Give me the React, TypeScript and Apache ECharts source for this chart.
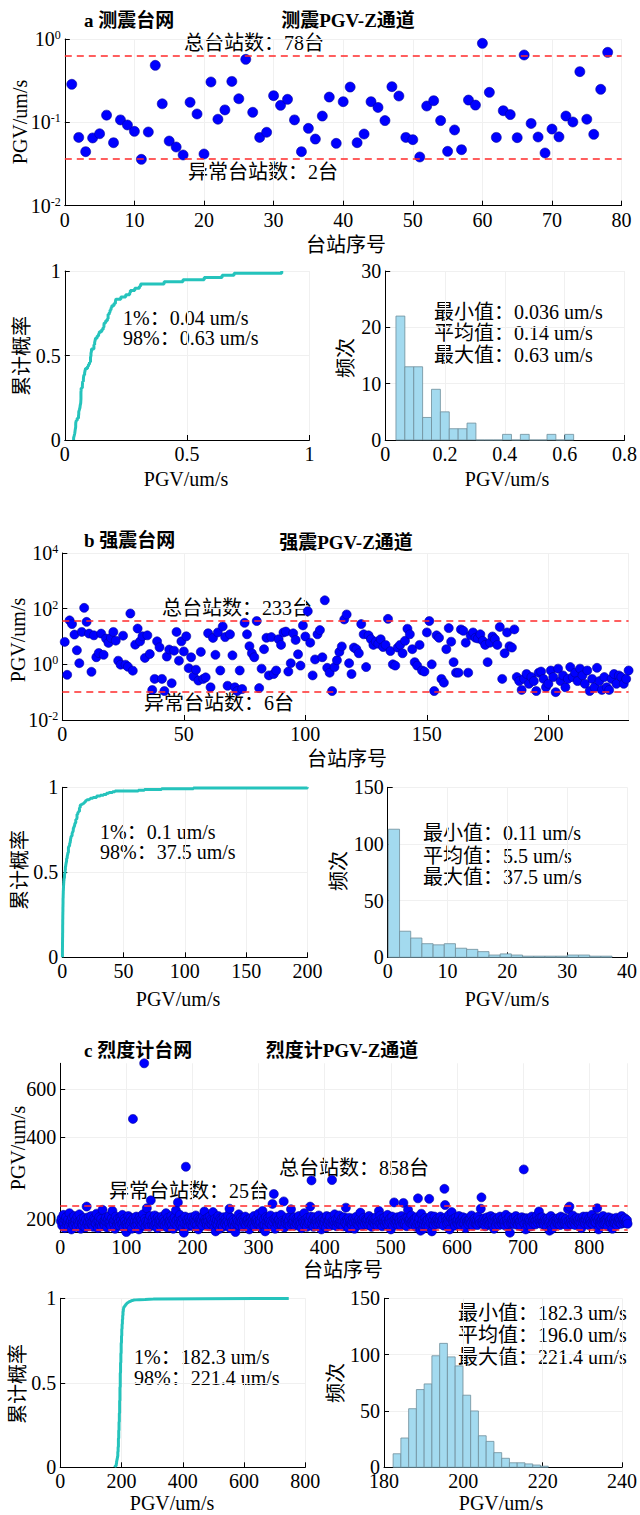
import React, { useEffect, useRef } from 'react';
import * as echarts from 'echarts';

const FONT = '"Liberation Serif", "Noto Sans CJK SC", serif';

// ---------- panel a: 测震台网 (78 stations) ----------
const aStations = [
  0.286, 0.066, 0.0445, 0.065, 0.073, 0.122, 0.057, 0.107, 0.093, 0.078,
  0.036, 0.0766, 0.483, 0.167, 0.0597, 0.0506, 0.0406, 0.174, 0.126, 0.0417,
  0.305, 0.109, 0.141, 0.31, 0.192, 0.57, 0.132, 0.066, 0.076, 0.209,
  0.16, 0.189, 0.107, 0.0445, 0.0847, 0.063, 0.119, 0.201, 0.056, 0.177,
  0.265, 0.057, 0.0724, 0.177, 0.151, 0.105, 0.268, 0.207, 0.066, 0.062,
  0.0384, 0.157, 0.182, 0.105, 0.0449, 0.081, 0.047, 0.185, 0.161, 0.887,
  0.229, 0.066, 0.138, 0.124, 0.0655, 0.643, 0.097, 0.0667, 0.0429, 0.083,
  0.067, 0.119, 0.101, 0.406, 0.109, 0.0718, 0.249, 0.692,
];
const aLimits = [0.036, 0.63];
const aHistRange = [0.036, 0.63];
const aHistCounts = [22, 13, 13, 4, 9, 5, 2, 2, 3, 0, 0, 0, 1, 0, 1, 0, 0, 1, 0, 1];

// ---------- panel b: 强震台网 (233 stations) ----------
const bStations = [
  6.4, 0.42, 38, 28, 11.7, 3.2, 1.1, 14.6, 107, 33.6,
  12.7, 0.54, 11, 1.8, 2.55, 12.7, 2.2, 8.4, 5.9, 8.9,
  14.6, 7.1, 1.35, 0.97, 10.7, 0.97, 0.82, 67, 0.59, 5.1,
  19.3, 6.7, 10.2, 1.7, 11, 2.35, 0.12, 0.3, 6.7, 4.1,
  0.3, 0.11, 1.9, 3.4, 0.21, 3.1, 14.6, 1.35, 6.7, 2.9,
  10.2, 0.73, 1.8, 0.37, 0.64, 0.26, 2.8, 0.3, 0.34, 13.1,
  0.15, 8.9, 2.2, 14, 0.6, 23, 9.5, 0.17, 12, 2.1,
  0.15, 0.11, 0.6, 0.13, 31, 12, 4.5, 2.5, 1.8, 36,
  0.14, 0.7, 3.5, 9, 0.4, 9.5, 0.45, 0.6, 8, 5,
  14, 15, 0.55, 1.1, 13, 7.5, 2.3, 0.9, 25, 10,
  81, 6, 0.4, 1.5, 12, 17, 1.8, 200, 0.75, 0.5,
  0.11, 0.8, 1.4, 2.8, 4.4, 41, 62, 1.1, 0.45, 4,
  3.5, 2.5, 28, 12, 0.8, 11, 8, 5, 6.5, 5.5,
  8, 4.2, 5, 43, 3, 1, 0.9, 4, 5, 2.5,
  7, 19, 12, 3.5, 1.2, 0.9, 5, 0.6, 0.55, 14,
  36, 1, 0.11, 11, 9, 0.3, 0.22, 3.5, 20, 6.5,
  1.2, 0.5, 0.5, 18, 16, 6, 0.5, 11, 14, 9,
  8.5, 12, 7, 5, 1.2, 6, 10, 8, 5, 22,
  0.3, 2.5, 14, 4.5, 4, 18, 0.35, 0.25, 0.12, 0.3,
  0.45, 0.2, 0.35, 0.25, 0.11, 0.5, 0.55, 0.3, 0.15, 0.2,
  0.6, 0.35, 0.1, 0.7, 0.25, 0.4, 0.15, 0.3, 0.8, 0.35,
  0.5, 0.25, 0.7, 0.4, 0.2, 0.6, 0.11, 0.3, 0.15, 0.75,
  0.25, 0.12, 0.35, 0.15, 0.12, 0.3, 0.45, 0.2, 0.4, 0.35,
  0.2, 0.3, 0.6,
];
const bLimits = [0.1, 37.5];
const bHistRange = [0.11, 37.5];
const bHistCounts = [113, 23, 17, 12, 11, 12, 8, 7, 5, 2, 3, 2, 1, 1, 1, 1, 2, 2, 1, 1];

// ---------- panel c: 烈度计台网 (858 stations) ----------
const cStationsBase = [
  196,201,189,194,207,192,185,198,203,191,195,199,188,210,194,197,183,202,193,190,205,196,
  192,199,187,204,195,191,208,196,184,200,193,189,197,202,194,186,199,212,191,195,203,188,
  198,193,205,190,196,187,201,194,199,192,209,196,185,197,203,190,194,200,188,216,195,192,
  190,197,202,194,186,199,193,205,191,196,188,201,214,195,192,198,184,204,196,190,200,193,
  195,189,203,198,192,207,194,186,200,196,191,199,193,188,205,197,190,202,195,184,198,194,
  201,192,196,189,204,195,191,198,183,203,194,199,190,197,208,193,195,200,188,196,219,191,
  194,198,187,205,193,196,190,201,195,189,206,192,199,194,185,203,197,191,200,195,188,204,
  192,200,195,189,197,210,193,186,202,196,191,198,194,205,190,199,184,196,203,192,215,198,
  189,196,201,193,207,190,198,194,185,200,196,192,204,197,191,199,195,188,202,194,197,190,
  203,194,188,199,195,192,206,196,190,201,183,197,194,200,193,198,189,204,195,213,199,196,
  195,190,202,196,188,204,193,199,191,197,212,194,186,200,195,192,198,190,205,196,184,201,
  191,199,194,187,203,196,192,200,195,189,197,206,193,218,185,202,194,196,190,199,195,188,
  197,193,200,191,196,208,189,195,202,194,198,187,201,196,192,204,190,197,195,199,193,183,
  194,201,196,190,199,193,205,188,197,195,200,192,196,209,191,198,194,186,203,214,190,199,
  190,196,203,195,188,201,194,198,192,206,196,189,199,195,193,200,184,197,204,194,191,198,
  199,192,195,207,190,197,194,201,186,196,193,199,202,191,195,198,189,204,217,192,200,194,
  196,203,189,194,200,192,198,195,205,190,197,193,185,201,196,194,210,191,199,195,187,202,
  193,198,195,190,204,196,192,199,187,203,195,191,197,200,194,189,206,196,193,198,183,195,
  201,190,197,194,199,186,205,195,192,198,196,203,189,194,200,197,191,196,208,193,199,188,
  195,199,192,206,194,197,190,201,196,188,203,195,193,220,191,200,196,185,202,194,197,192,
  190,196,201,194,184,199,195,204,192,197,190,200,195,211,193,198,189,196,202,194,191,199,
  197,193,199,190,205,196,192,198,187,201,195,194,200,191,197,203,194,189,196,214,193,206,
  194,200,188,197,195,202,191,196,199,193,207,190,198,195,201,183,196,204,189,197,194,199,
  192,198,195,203,190,196,200,194,189,205,197,193,199,195,191,201,196,188,202,216,198,195,
  199,193,206,195,191,198,194,200,196,187,203,192,197,195,201,190,196,209,193,198,184,191,
  196,202,190,197,194,199,188,195,201,193,205,196,192,198,190,204,195,197,191,200,194,198,
  193,197,204,191,198,195,200,189,196,194,202,197,192,199,195,207,183,196,201,212,198,195,
  200,194,189,202,196,193,198,191,205,195,197,190,199,194,203,196,192,198,185,201,195,197,
  191,198,195,200,193,206,196,189,199,194,201,197,192,196,190,204,195,198,193,218,196,194,
  197,192,201,195,188,199,194,203,196,191,198,193,205,195,200,190,197,184,202,196,189,199,
  194,200,196,190,204,195,198,192,197,201,193,196,189,207,195,199,194,191,203,215,195,192,
  199,193,197,202,191,196,205,194,198,190,200,195,193,197,188,203,196,199,194,192,201,183,
  195,201,190,196,199,193,197,188,204,195,198,192,200,196,191,197,206,194,199,213,196,202,
  192,197,203,194,196,190,200,195,198,187,201,196,193,199,195,205,191,184,194,200,196,189,
  198,194,196,201,192,199,195,190,204,196,193,198,202,194,197,191,200,195,188,217,196,199,
  193,200,195,191,206,196,194,199,190,197,202,195,198,192,196,201,194,185,199,195,204,197,
  196,192,199,204,194,197,190,201,195,198,193,207,196,191,200,195,198,194,202,219,197,183,
  201,195,190,197,199,193,205,196,192,198,194,200,196,188,203,195,197,199,193,201,184,194,
  195,199,193,196,202,190,197,195,200,194,198,192,205,196,199,193,197,201,194,196,198,192,
];
// stations (1-based number) read individually outside the dense band
const cOutlierStation = [40, 100, 110, 127, 137, 178, 187, 190, 235, 265, 310, 321, 323, 338, 378, 380, 411, 505, 519, 541, 545, 558, 562, 581, 582, 637, 680, 701, 740, 770];
const cOutlierValue = [222, 179, 466, 746, 234, 230, 178, 311, 180, 179, 180, 227, 247, 232, 222, 277, 278, 230, 229, 238, 181, 237, 180, 258, 225, 240, 178, 304, 181, 222];
const cLimits = [182.3, 221.4];
const cHistRange = [182.3, 221.4];
const cHistCounts = [12, 26, 52, 69, 74, 99, 110, 98, 90, 64, 50, 28, 23, 13, 8, 4, 4, 3, 2, 1];

// ---------- texts ----------
const panelTitles = ['a 测震台网', 'b 强震台网', 'c 烈度计台网'];
const chartTitles = ['测震PGV-Z通道', '强震PGV-Z通道', '烈度计PGV-Z通道'];
const totalTexts = ['总台站数：78台', '总台站数：233台', '总台站数：858台'];
const abnormalTexts = ['异常台站数：2台', '异常台站数：6台', '异常台站数：25台'];
const cdfTexts = [
  ['1%：0.04 um/s', '98%：0.63 um/s'],
  ['1%：0.1 um/s', '98%：37.5 um/s'],
  ['1%：182.3 um/s', '98%：221.4 um/s'],
];
const histTexts = [
  ['最小值：0.036 um/s', '平均值：0.14 um/s', '最大值：0.63 um/s'],
  ['最小值：0.11 um/s', '平均值：5.5 um/s', '最大值：37.5 um/s'],
  ['最小值：182.3 um/s', '平均值：196.0 um/s', '最大值：221.4 um/s'],
];

// ---------- helpers ----------
const cStations = cStationsBase.slice();
cOutlierStation.forEach((s, k) => {
  if (s - 1 < cStations.length) cStations[s - 1] = cOutlierValue[k];
});

const toLogScatter = (vals: number[]) => vals.map((v, i) => [i + 1, Math.log10(v)]);
const ecdf = (vals: number[]) => {
  const s = [...vals].sort((x, y) => x - y);
  const n = s.length;
  const out: number[][] = [[s[0], 0]];
  s.forEach((v, i) => out.push([v, (i + 1) / n]));
  return out;
};
const histBins = (counts: number[], range: number[]) => {
  const w = (range[1] - range[0]) / counts.length;
  return counts.map((c, k) => [range[0] + k * w, range[0] + (k + 1) * w, c]);
};

const TICK = 20;
const rich = {
  b: { fontSize: TICK, fontFamily: FONT, color: '#000' },
  s: { fontSize: 12, fontFamily: FONT, color: '#000', verticalAlign: 'top' },
};
const powLabel = (v: number) => `{b|10}{s|${Math.round(v)}}`;

const mkAxis = (gridIndex: number, o: any) => ({
  gridIndex,
  type: 'value',
  min: o.min,
  max: o.max,
  interval: o.interval,
  axisLine: { show: true, onZero: false, lineStyle: { color: '#000', width: 1 } },
  axisTick: { show: true, inside: true, length: 5, lineStyle: { color: '#000' }, ...(o.axisTick || {}) },
  axisLabel: { color: '#000', fontSize: TICK, fontFamily: FONT, margin: 4, ...(o.axisLabel || {}) },
  splitLine: { show: true, lineStyle: { color: '#f0f0f0', width: 1 } },
});

const scatterSeries = (idx: number, vals: number[], limits: number[], size: number) => ({
  type: 'scatter',
  xAxisIndex: idx,
  yAxisIndex: idx,
  data: toLogScatter(vals),
  symbolSize: size,
  itemStyle: { color: '#0000ff', borderColor: '#00009a', borderWidth: 0.6, opacity: 1 },
  markLine: {
    silent: true,
    symbol: ['none', 'none'],
    label: { show: false },
    lineStyle: { color: '#ff2a2a', type: [7, 5], width: 1.5 },
    data: limits.map((v) => ({ yAxis: Math.log10(v) })),
  },
});

const cdfSeries = (idx: number, vals: number[]) => ({
  type: 'line',
  xAxisIndex: idx,
  yAxisIndex: idx,
  data: ecdf(vals),
  step: 'end',
  showSymbol: false,
  lineStyle: { color: '#25c3bc', width: 3 },
});

const histSeries = (idx: number, counts: number[], range: number[]) => ({
  type: 'custom',
  xAxisIndex: idx,
  yAxisIndex: idx,
  data: histBins(counts, range),
  encode: { x: [0, 1], y: 2 },
  renderItem: (_p: any, api: any) => {
    const p0 = api.coord([api.value(0), api.value(2)]);
    const p1 = api.coord([api.value(1), 0]);
    return {
      type: 'rect',
      shape: { x: p0[0], y: p0[1], width: p1[0] - p0[0], height: p1[1] - p0[1] },
      style: { fill: '#a3daef', stroke: '#6f8e9b', lineWidth: 0.8 },
    };
  },
});

const txt = (text: string, x: number, y: number, o: any = {}) => ({
  type: 'text',
  x,
  y,
  rotation: o.rot || 0,
  silent: true,
  style: {
    text,
    fill: '#000',
    font: `${o.bold ? 'bold ' : ''}${o.size || 20}px ${FONT}`,
    textAlign: o.align || 'left',
    textVerticalAlign: 'middle',
  },
});

export default function App() {
  const ref = useRef<HTMLDivElement>(null);
  useEffect(() => {
    document.body.style.margin = '0';
    const chart = echarts.init(ref.current!, null, { renderer: 'svg' });

    const cMinLog = Math.log10(Math.min(...cStations));
    const cMaxLog = Math.log10(Math.max(...cStations));
    const R = Math.PI / 2;

    const option: any = {
      animation: false,
      backgroundColor: '#fff',
      grid: [
        { left: 64.8, top: 39, width: 556.8, height: 166.7 },
        { left: 64.8, top: 271, width: 244.6, height: 169 },
        { left: 385.2, top: 271, width: 244.8, height: 169 },
        { left: 62.3, top: 553, width: 566.3, height: 167 },
        { left: 62.3, top: 787.3, width: 245.1, height: 170 },
        { left: 387.7, top: 787.3, width: 246.7, height: 170 },
        { left: 60.2, top: 1063.3, width: 567.4, height: 169.4 },
        { left: 60.2, top: 1298.3, width: 245.1, height: 169 },
        { left: 384, top: 1298.3, width: 245, height: 169 },
      ],
      xAxis: [
        mkAxis(0, { min: 0, max: 80, interval: 10 }),
        mkAxis(1, { min: 0, max: 1, interval: 0.5 }),
        mkAxis(2, { min: 0, max: 0.8, interval: 0.2 }),
        mkAxis(3, { min: 0, max: 233, interval: 50, axisLabel: { showMaxLabel: false, formatter: (v: number) => (v % 50 === 0 ? String(v) : '') } }),
        mkAxis(4, { min: 0, max: 200, interval: 50 }),
        mkAxis(5, { min: 0, max: 40, interval: 10 }),
        mkAxis(6, { min: 0, max: 858, interval: 100, axisLabel: { showMaxLabel: false, formatter: (v: number) => (v % 100 === 0 ? String(v) : '') } }),
        mkAxis(7, { min: 0, max: 800, interval: 200 }),
        mkAxis(8, { min: 180, max: 240, interval: 20 }),
      ],
      yAxis: [
        mkAxis(0, { min: -2, max: 0, interval: 1, axisLabel: { formatter: powLabel, rich } }),
        mkAxis(1, { min: 0, max: 1, interval: 0.5 }),
        mkAxis(2, { min: 0, max: 30, interval: 10 }),
        mkAxis(3, { min: -2, max: 4, interval: 2, axisLabel: { formatter: powLabel, rich } }),
        mkAxis(4, { min: 0, max: 1, interval: 0.5 }),
        mkAxis(5, { min: 0, max: 150, interval: 50 }),
        mkAxis(6, {
          min: cMinLog,
          max: cMaxLog,
          axisTick: { customValues: [200, 400, 600].map((v) => Math.log10(v)) },
          axisLabel: {
            customValues: [200, 400, 600].map((v) => Math.log10(v)),
            formatter: (v: number) => String(Math.round(Math.pow(10, v))),
          },
        }),
        mkAxis(7, { min: 0, max: 1, interval: 0.5 }),
        mkAxis(8, { min: 0, max: 150, interval: 50 }),
      ],
      series: [
        scatterSeries(0, aStations, aLimits, 10),
        cdfSeries(1, aStations),
        histSeries(2, aHistCounts, aHistRange),
        scatterSeries(3, bStations, bLimits, 9),
        cdfSeries(4, bStations),
        histSeries(5, bHistCounts, bHistRange),
        scatterSeries(6, cStations, cLimits, 9),
        cdfSeries(7, cStations),
        histSeries(8, cHistCounts, cHistRange),
      ],
      graphic: [
        // panel a
        txt(panelTitles[0], 84, 20, { bold: true, size: 19 }),
        txt(chartTitles[0], 348, 20, { bold: true, align: 'center', size: 19 }),
        txt(totalTexts[0], 184, 43),
        txt(abnormalTexts[0], 188, 172),
        txt('台站序号', 346, 245, { align: 'center' }),
        txt('PGV/um/s', 20, 122, { align: 'center', rot: R }),
        txt(cdfTexts[0][0], 123, 318),
        txt(cdfTexts[0][1], 123, 338),
        txt('累计概率', 22, 356, { align: 'center', rot: R }),
        txt('PGV/um/s', 186, 479, { align: 'center' }),
        txt(histTexts[0][0], 434, 312),
        txt(histTexts[0][1], 434, 333),
        txt(histTexts[0][2], 434, 355),
        txt('频次', 346, 358, { align: 'center', rot: R }),
        txt('PGV/um/s', 507, 479, { align: 'center' }),
        // panel b
        txt(panelTitles[1], 84, 540, { bold: true, size: 19 }),
        txt(chartTitles[1], 346, 542, { bold: true, align: 'center', size: 19 }),
        txt(totalTexts[1], 162, 608),
        txt(abnormalTexts[1], 144, 703),
        txt('台站序号', 347, 759, { align: 'center' }),
        txt('PGV/um/s', 18, 640, { align: 'center', rot: R }),
        txt(cdfTexts[1][0], 100, 832),
        txt(cdfTexts[1][1], 100, 852),
        txt('累计概率', 20, 870, { align: 'center', rot: R }),
        txt('PGV/um/s', 178, 999, { align: 'center' }),
        txt(histTexts[1][0], 423, 833),
        txt(histTexts[1][1], 423, 856),
        txt(histTexts[1][2], 423, 877),
        txt('频次', 339, 871, { align: 'center', rot: R }),
        txt('PGV/um/s', 507, 999, { align: 'center' }),
        // panel c
        txt(panelTitles[2], 84, 1050, { bold: true, size: 19 }),
        txt(chartTitles[2], 342, 1050, { bold: true, align: 'center', size: 19 }),
        txt(totalTexts[2], 279, 1168),
        txt(abnormalTexts[2], 109, 1191),
        txt('台站序号', 343, 1270, { align: 'center' }),
        txt('PGV/um/s', 18, 1148, { align: 'center', rot: R }),
        txt(cdfTexts[2][0], 134, 1357),
        txt(cdfTexts[2][1], 134, 1378),
        txt('累计概率', 18, 1384, { align: 'center', rot: R }),
        txt('PGV/um/s', 172, 1503, { align: 'center' }),
        txt(histTexts[2][0], 458, 1313),
        txt(histTexts[2][1], 458, 1335),
        txt(histTexts[2][2], 458, 1357),
        txt('频次', 336, 1383, { align: 'center', rot: R }),
        txt('PGV/um/s', 501, 1503, { align: 'center' }),
      ],
    };
    chart.setOption(option);
    return () => chart.dispose();
  }, []);
  return <div ref={ref} style={{ width: 640, height: 1515, position: 'absolute', left: 0, top: 0 }} />;
}
